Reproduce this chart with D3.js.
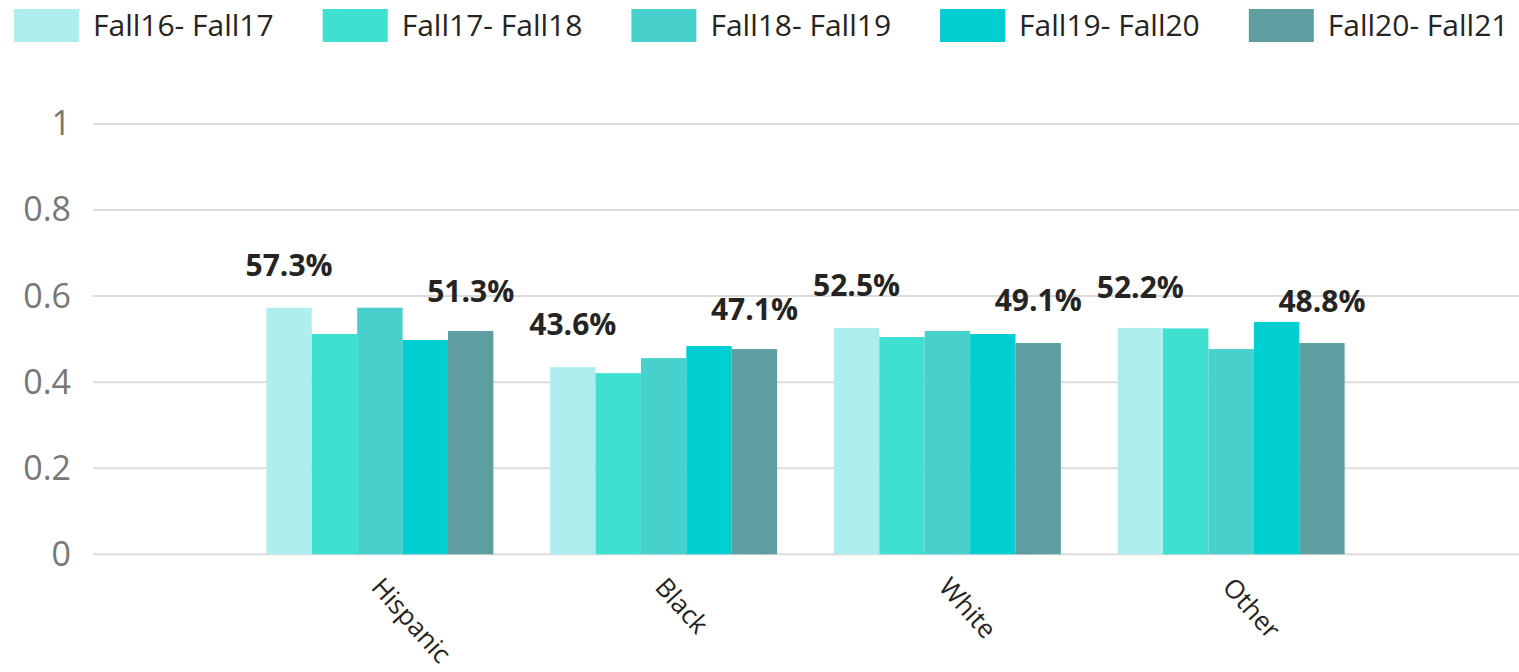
<!DOCTYPE html>
<html>
<head>
<meta charset="utf-8">
<script src="https://cdn.jsdelivr.net/npm/d3@7"></script>
<style>
  body { margin: 0; background: #fff; }
  svg { display: block; font-family: "Open Sans", sans-serif; }
</style>
</head>
<body>
<div id="chart"></div>
<script>
// Groups along the x axis and the five year-over-year series
var groups = ["Hispanic", "Black", "White", "Other"];
var seriesNames = ["Fall16- Fall17", "Fall17- Fall18", "Fall18- Fall19", "Fall19- Fall20", "Fall20- Fall21"];
var seriesColors = ["#AFEEEE", "#40E0D0", "#48D1CC", "#00CED1", "#5F9EA0"];

// values, one array per series (Hispanic, Black, White, Other)
var fall16 = [0.573, 0.435, 0.526, 0.526];
var fall17 = [0.512, 0.421, 0.505, 0.525];
var fall18 = [0.573, 0.456, 0.519, 0.477];
var fall19 = [0.498, 0.484, 0.512, 0.540];
var fall20 = [0.519, 0.477, 0.491, 0.491];

// data labels shown above the first and last bar of each group
var firstLabels = [0.573, 0.436, 0.525, 0.522];
var lastLabels = [0.513, 0.471, 0.491, 0.488];

var yTicks = [0, 0.2, 0.4, 0.6, 0.8, 1];

var w = 1519, h = 672;

var svg = d3.select("#chart")
    .append("svg")
    .attr("width", w)
    .attr("height", h);

var allSeries = [fall16, fall17, fall18, fall19, fall20];

var y = d3.scaleLinear()
    .domain([0, 1])
    .range([554.3, 124]);

var x0 = d3.scaleBand()
    .domain(groups)
    .range([238, 1373])
    .paddingInner(0.2)
    .paddingOuter(0.1);

var x1 = d3.scaleBand()
    .domain(d3.range(seriesNames.length))
    .range([0, x0.bandwidth()]);

// gridlines
svg.append("g")
   .selectAll("line")
   .data(yTicks)
   .enter()
   .append("line")
   .attr("x1", 93)
   .attr("x2", 1519)
   .attr("y1", function(d) { return y(d); })
   .attr("y2", function(d) { return y(d); })
   .attr("stroke", "#dcdcdc")
   .attr("stroke-width", 2);

// y axis labels
var yAxis = d3.axisLeft(y)
    .tickValues(yTicks)
    .tickSize(0)
    .tickPadding(0)
    .tickFormat(d3.format("~g"));

var yg = svg.append("g")
    .attr("transform", "translate(71,0)")
    .call(yAxis);
yg.select(".domain").remove();
yg.selectAll("text")
  .attr("fill", "#777777")
  .attr("font-size", 34)
  .attr("font-family", "Open Sans, sans-serif");

// bars
var groupG = svg.selectAll(".grp")
    .data(groups)
    .enter()
    .append("g")
    .attr("class", "grp")
    .attr("transform", function(d) { return "translate(" + x0(d) + ",0)"; });

groupG.selectAll("rect")
   .data(function(d, gi) {
       return allSeries.map(function(s, si) { return { si: si, v: s[gi] }; });
   })
   .enter()
   .append("rect")
   .attr("x", function(d) { return x1(d.si); })
   .attr("width", x1.bandwidth())
   .attr("y", function(d) { return y(d.v); })
   .attr("height", function(d) { return y(0) - y(d.v); })
   .attr("fill", function(d) { return seriesColors[d.si]; });

// data labels
var fmt = d3.format(".1%");
function addLabels(vals, si) {
    svg.append("g")
       .selectAll("text")
       .data(vals)
       .enter()
       .append("text")
       .attr("x", function(d, i) { return x0(groups[i]) + x1(si) + x1.bandwidth() / 2; })
       .attr("y", function(d) { return y(d) - 32; })
       .attr("text-anchor", "middle")
       .attr("font-size", 30)
       .attr("font-weight", "bold")
       .attr("fill", "#252423")
       .text(function(d) { return fmt(d); });
}
addLabels(firstLabels, 0);
addLabels(lastLabels, 4);

// x axis labels, rotated
var xAxis = d3.axisBottom(x0).tickSize(0).tickPadding(0);
var xg = svg.append("g")
    .attr("transform", "translate(0,554)")
    .call(xAxis);
xg.select(".domain").remove();
xg.selectAll("text")
  .attr("font-size", 26)
  .attr("font-family", "Open Sans, sans-serif")
  .attr("fill", "#252423")
  .attr("text-anchor", "start")
  .attr("dy", null)
  .attr("y", 0)
  .attr("transform", "translate(-10,34) rotate(48)");

// legend
var legend = svg.append("g")
    .selectAll("g")
    .data(seriesNames)
    .enter()
    .append("g")
    .attr("transform", function(d, i) { return "translate(" + (14 + i * 308.7) + ",0)"; });

legend.append("rect")
    .attr("x", 0)
    .attr("y", 9)
    .attr("width", 65)
    .attr("height", 33)
    .attr("fill", function(d, i) { return seriesColors[i]; });

legend.append("text")
    .attr("x", 79)
    .attr("y", 36)
    .attr("font-size", 30)
    .attr("fill", "#252423")
    .text(function(d) { return d; });
</script>
</body>
</html>
